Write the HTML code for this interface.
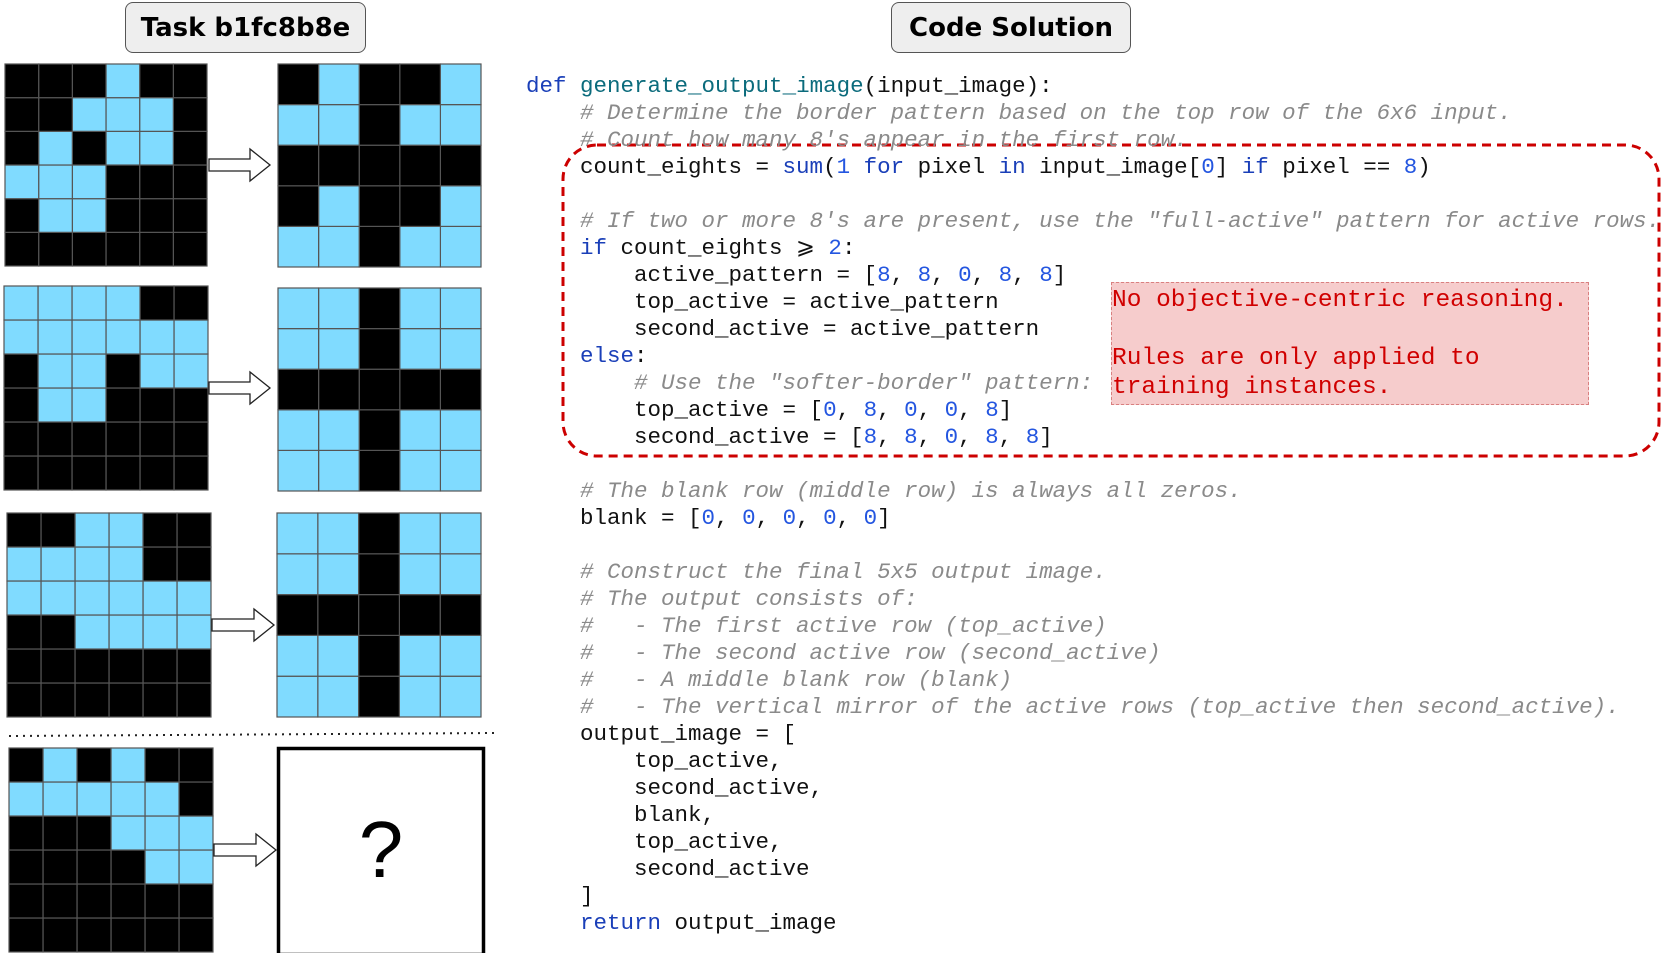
<!DOCTYPE html>
<html><head><meta charset="utf-8">
<style>
html,body{margin:0;padding:0;background:#fff;width:1661px;height:953px;overflow:hidden;position:relative;}
.title{position:absolute;background:#eee;border:1.5px solid #555;border-radius:8px;box-sizing:border-box;
 font-family:"DejaVu Sans","Liberation Sans",sans-serif;font-weight:bold;font-size:26px;text-align:center;line-height:50px;color:#000;}
pre{position:absolute;left:526px;top:73px;margin:0;font-family:"Liberation Mono","DejaVu Sans Mono",monospace;font-size:22.5px;line-height:27px;color:#111;}
.k{color:#1a3fb8}.f{color:#0b6b7c}.n{color:#2456e0}.c{color:#8a8a8a;font-style:italic}
.note{position:absolute;left:1111px;top:282px;width:478px;height:123px;background:#f6cccc;border:1px dashed #d98080;box-sizing:border-box;
 font-family:"Liberation Mono","DejaVu Sans Mono",monospace;font-size:24.5px;line-height:29px;color:#d00000;padding:3px 0 0 0;white-space:pre;}
</style></head><body>
<div class="title" style="left:125px;top:2px;width:241px;height:51px;">Task b1fc8b8e</div>
<div class="title" style="left:891px;top:2px;width:240px;height:51px;">Code Solution</div>

<svg id="g" width="1661" height="953" style="position:absolute;left:0;top:0">
<line x1="9" y1="736" x2="495" y2="733" stroke="#222" stroke-width="2" stroke-dasharray="2,5"/>
<rect x="278.5" y="748.5" width="205" height="206" fill="#fff" stroke="#000" stroke-width="3.5"/>
<text x="381" y="877" font-family="Liberation Sans,sans-serif" font-size="80" text-anchor="middle">?</text>
<rect x="563" y="145" width="1096" height="311" rx="34" fill="none" stroke="#cc0000" stroke-width="3" stroke-dasharray="9,6"/>
</svg>

<div class="note">No objective-centric reasoning.

Rules are only applied to
training instances.</div>

<pre><span class="k">def</span> <span class="f">generate_output_image</span>(input_image):
    <span class="c"># Determine the border pattern based on the top row of the 6x6 input.</span>
    <span class="c"># Count how many 8's appear in the first row.</span>
    count_eights = <span class="k">sum</span>(<span class="n">1</span> <span class="k">for</span> pixel <span class="k">in</span> input_image[<span class="n">0</span>] <span class="k">if</span> pixel == <span class="n">8</span>)

    <span class="c"># If two or more 8's are present, use the "full-active" pattern for active rows.</span>
    <span class="k">if</span> count_eights ⩾ <span class="n">2</span>:
        active_pattern = [<span class="n">8</span>, <span class="n">8</span>, <span class="n">0</span>, <span class="n">8</span>, <span class="n">8</span>]
        top_active = active_pattern
        second_active = active_pattern
    <span class="k">else</span>:
        <span class="c"># Use the "softer-border" pattern:</span>
        top_active = [<span class="n">0</span>, <span class="n">8</span>, <span class="n">0</span>, <span class="n">0</span>, <span class="n">8</span>]
        second_active = [<span class="n">8</span>, <span class="n">8</span>, <span class="n">0</span>, <span class="n">8</span>, <span class="n">8</span>]

    <span class="c"># The blank row (middle row) is always all zeros.</span>
    blank = [<span class="n">0</span>, <span class="n">0</span>, <span class="n">0</span>, <span class="n">0</span>, <span class="n">0</span>]

    <span class="c"># Construct the final 5x5 output image.</span>
    <span class="c"># The output consists of:</span>
    <span class="c">#   - The first active row (top_active)</span>
    <span class="c">#   - The second active row (second_active)</span>
    <span class="c">#   - A middle blank row (blank)</span>
    <span class="c">#   - The vertical mirror of the active rows (top_active then second_active).</span>
    output_image = [
        top_active,
        second_active,
        blank,
        top_active,
        second_active
    ]
    <span class="k">return</span> output_image</pre>

<script>
var svg=document.getElementById('g');var NS='http://www.w3.org/2000/svg';
function R(x,y,w,h,f,s,sw){var r=document.createElementNS(NS,'rect');r.setAttribute('x',x);r.setAttribute('y',y);r.setAttribute('width',w);r.setAttribute('height',h);r.setAttribute('fill',f);if(s){r.setAttribute('stroke',s);r.setAttribute('stroke-width',sw);}svg.insertBefore(r,svg.firstChild);}
function grid(x,y,size,rows){var n=rows.length,c=size/n;
 for(var i=0;i<n;i++)for(var j=0;j<n;j++){R(x+j*c,y+i*c,c,c,rows[i][j]=='1'?'#80dbff':'#000','#555',1.2);} }
function arrow(x,y,len){var p=document.createElementNS(NS,'polygon');var hx=x+len-20;
 p.setAttribute('points',[x,y-6,hx,y-6,hx,y-16,x+len,y,hx,y+16,hx,y+6,x,y+6].join(' '));
 p.setAttribute('fill','#fff');p.setAttribute('stroke','#222');p.setAttribute('stroke-width','1.3');svg.appendChild(p);}
var A='11011 11011 00000 11011 11011'.split(' ');
grid(5,64,202,'000100 001110 010110 111000 011000 000000'.split(' '));
grid(278,64,203,'01001 11011 00000 01001 11011'.split(' '));
grid(4,286,204,'111100 111111 011011 011000 000000 000000'.split(' '));
grid(278,288,203,A);
grid(7,513,204,'001100 111100 111111 001111 000000 000000'.split(' '));
grid(277,513,204,A);
grid(9,748,204,'010100 111110 000111 000011 000000 000000'.split(' '));
arrow(209,165,61);arrow(209,388,61);arrow(212,625,62);arrow(214,850,62);
</script>
</body></html>
